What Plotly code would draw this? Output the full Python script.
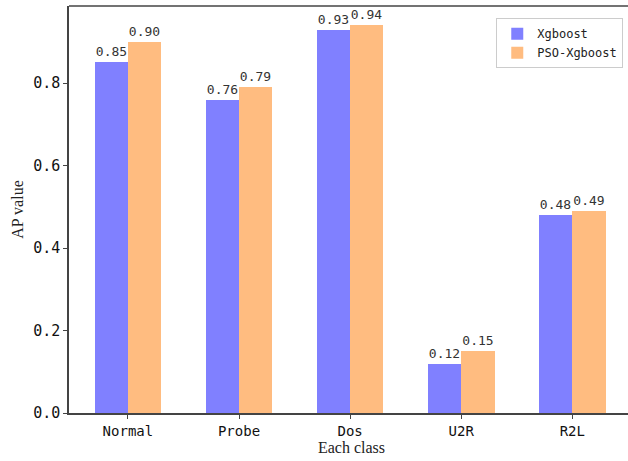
import plotly.graph_objects as go

categories = ["Normal", "Probe", "Dos", "U2R", "R2L"]
xgb = [0.85, 0.76, 0.93, 0.12, 0.48]
pso_xgb = [0.90, 0.79, 0.94, 0.15, 0.49]
series_names = ["Xgboost", "PSO-Xgboost"]
y_ticks = [0.0, 0.2, 0.4, 0.6, 0.8]

mono = "DejaVu Sans Mono"
xpos = list(range(len(categories)))

fig = go.Figure()
fig.add_trace(go.Bar(
    x=[p - 0.15 for p in xpos], y=xgb, width=0.3, name=series_names[0],
    marker=dict(color="#8080FF", line=dict(width=0)),
    text=[f"{v:.2f}" for v in xgb], textposition="outside",
    textfont=dict(family=mono, size=13, color="#333333"), cliponaxis=False,
))
fig.add_trace(go.Bar(
    x=[p + 0.15 for p in xpos], y=pso_xgb, width=0.3, name=series_names[1],
    marker=dict(color="#FFBC80", line=dict(width=0)),
    text=[f"{v:.2f}" for v in pso_xgb], textposition="outside",
    textfont=dict(family=mono, size=13, color="#333333"), cliponaxis=False,
))

fig.update_layout(
    width=634, height=461,
    margin=dict(l=69, r=0, t=6, b=48),
    paper_bgcolor="white", plot_bgcolor="white",
    barmode="overlay", bargap=0,
    showlegend=True,
    legend=dict(x=0.981, y=0.97, xanchor="right", yanchor="top",
                bordercolor="#cccccc", borderwidth=1, bgcolor="white",
                font=dict(family=mono, size=12, color="#222222"),
                tracegroupgap=2),
    xaxis=dict(range=[-0.53, 4.555], tickmode="array", tickvals=xpos, ticktext=categories,
               showline=True, linecolor="#444444", linewidth=1.5,
               ticks="outside", ticklen=4, tickcolor="#444444",
               showgrid=False, zeroline=False,
               tickfont=dict(family=mono, size=14, color="#111111"),
               title=dict(text="Each class", font=dict(family="Liberation Serif", size=16, color="#222222"), standoff=2)),
    yaxis=dict(range=[0, 0.987], tickmode="array", tickvals=y_ticks,
               ticktext=[f"{v:.1f}" for v in y_ticks],
               showline=True, linecolor="#444444", linewidth=1.5,
               ticks="outside", ticklen=4, tickcolor="#444444",
               showgrid=False, zeroline=False,
               tickfont=dict(family=mono, size=15, color="#111111"),
               title=dict(text="AP value", font=dict(family="Liberation Serif", size=16, color="#222222"), standoff=6)),
    shapes=[dict(type="line", xref="paper", yref="paper", x0=0, x1=1, y0=1, y1=1,
                 line=dict(color="#444444", width=1.5))],
)

fig.write_html("out.html", config={"displayModeBar": False},
               post_script="document.body.style.margin='0px';document.body.style.overflow='hidden';")
